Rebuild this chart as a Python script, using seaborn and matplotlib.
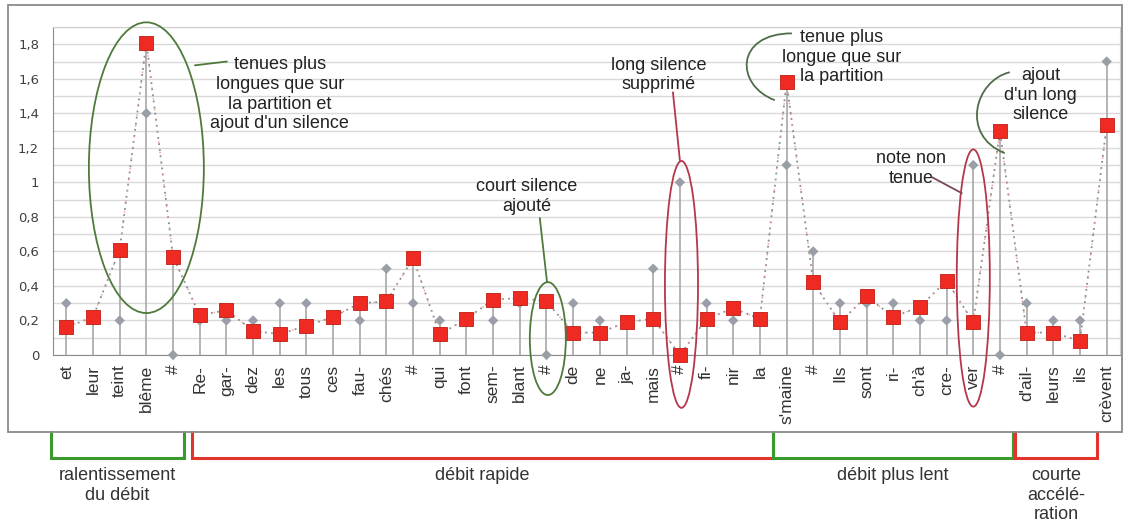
import matplotlib
matplotlib.use("Agg")
import matplotlib.pyplot as plt
import numpy as np
import pandas as pd
import seaborn as sns
from matplotlib.patches import Ellipse, PathPatch, Rectangle
from matplotlib.path import Path
from matplotlib.ticker import FuncFormatter, MultipleLocator
from matplotlib.transforms import blended_transform_factory

# syllabes chantées (# = silence)
syllabes = ["et", "leur", "teint", "blême", "#", "Re-", "gar-", "dez", "les", "tous",
            "ces", "fau-", "chés", "#", "qui", "font", "sem-", "blant", "#", "de",
            "ne", "ja-", "mais", "#", "fi-", "nir", "la", "s'maine", "#", "Ils",
            "sont", "ri-", "ch'à", "cre-", "ver", "#", "d'ail-", "leurs", "ils", "crèvent"]
# durées sur la partition (losanges gris)
partition = [0.3, 0.2, 0.2, 1.4, 0.0, 0.2, 0.2, 0.2, 0.3, 0.3,
             0.2, 0.2, 0.5, 0.3, 0.2, 0.2, 0.2, 0.3, 0.0, 0.3,
             0.2, 0.2, 0.5, 1.0, 0.3, 0.2, 0.2, 1.1, 0.6, 0.3,
             0.3, 0.3, 0.2, 0.2, 1.1, 0.0, 0.3, 0.2, 0.2, 1.7]
# durées chantées (carrés rouges)
chant = [0.16, 0.22, 0.61, 1.81, 0.57, 0.23, 0.26, 0.14, 0.12, 0.17,
         0.22, 0.30, 0.31, 0.56, 0.12, 0.21, 0.32, 0.33, 0.31, 0.13,
         0.13, 0.19, 0.21, 0.00, 0.21, 0.27, 0.21, 1.58, 0.42, 0.19,
         0.34, 0.22, 0.28, 0.43, 0.19, 1.30, 0.13, 0.13, 0.08, 1.33]

# zones de débit sous le graphique : (début, fin, couleur, texte)
zones = [(-0.59, 4.41, "#3b9a2c", "ralentissement\ndu débit"),
         (4.71, 26.49, "#e2332c", "débit rapide"),
         (26.49, 35.48, "#3b9a2c", "débit plus lent"),
         (35.56, 38.63, "#e2332c", "courte\naccélé-\nration")]

df = pd.DataFrame({"pos": np.arange(len(syllabes)), "syllabe": syllabes,
                   "partition": partition, "chant": chant})

sns.set_style("white")
plt.rcParams["font.family"] = ["Liberation Sans", "DejaVu Sans"]

W, H = 1128, 529
fig = plt.figure(figsize=(W / 100, H / 100), dpi=100)
ax = fig.add_axes([53 / W, 1 - 355 / H, (1120 - 53) / W, (355 - 27) / H])

# tiges verticales jusqu'à la plus grande des deux valeurs
ax.vlines(df["pos"], 0, df[["partition", "chant"]].max(axis=1), color="#a8a8a8", lw=1.2, zorder=2)

# ligne pointillée reliant les durées chantées
sns.lineplot(data=df, x="pos", y="chant", ax=ax, color="#8c8c8c", lw=1.3,
             linestyle=(0, (1, 2.4)), zorder=3)
sns.lineplot(data=df, x="pos", y="chant", ax=ax, color="#e89a94", lw=1.0,
             linestyle=(1.7, (1, 6.8)), zorder=3)

sns.scatterplot(data=df, x="pos", y="partition", ax=ax, marker="D", s=28,
                color="#9a9ea6", edgecolor="none", zorder=4, clip_on=False)
sns.scatterplot(data=df, x="pos", y="chant", ax=ax, marker="s", s=90,
                color="#ee2a22", edgecolor="#c01c16", linewidth=0.6, zorder=5, clip_on=False)

ax.set_xlim(-0.5, len(syllabes) - 0.5)
ax.set_ylim(0, 1.9)
ax.yaxis.set_major_locator(MultipleLocator(0.2))
ax.yaxis.set_minor_locator(MultipleLocator(0.1))
ax.yaxis.set_major_formatter(FuncFormatter(lambda v, _: f"{v:g}".replace(".", ",")))
ax.grid(which="both", axis="y", color="#d9d9d9", lw=1.0, zorder=0)
ax.set_axisbelow(True)

ax.set_xticks(df["pos"], labels=syllabes, rotation=90, fontsize=12.5, color="#333333")
ax.set_xticks(np.arange(-0.5, len(syllabes), 1), minor=True)
ax.tick_params(axis="x", which="major", length=0, pad=7)
ax.tick_params(axis="x", which="minor", length=5, color="#9a9a9a", width=0.8)
ax.tick_params(axis="y", which="major", length=4, color="#9a9a9a", pad=6, labelsize=9.5,
               labelcolor="#404040")
ax.tick_params(axis="y", which="minor", length=0)
for lab in ax.get_yticklabels():
    lab.set_family("DejaVu Sans")
ax.set_xlabel("")
ax.set_ylabel("")
for side in ["left", "bottom"]:
    ax.spines[side].set_color("#8c8c8c")
for side in ["top", "right"]:
    ax.spines[side].set_color("#cfcfcf")

# cadre du graphique
fig.add_artist(Rectangle((8 / W, 1 - 432 / H), 1114 / W, 427 / H, transform=fig.transFigure,
                         fill=False, ec="#8a8a8a", lw=1.3))

# accolades de débit
trans = blended_transform_factory(ax.transData, fig.transFigure)
top, bottom = 1 - 432 / H, 1 - 458 / H
for x0, x1, col, txt in zones:
    ax.plot([x0, x0, x1, x1], [top, bottom, bottom, top], transform=trans, color=col,
            lw=2.2, clip_on=False, solid_joinstyle="miter")
    ax.text((x0 + x1) / 2, 1 - 467 / H, txt, transform=trans, ha="center", va="top",
            fontsize=13, linespacing=1.2, color="#333333")

# annotations
green, red = "#4e7a3c", "#b5374a"
txt_kw = dict(ha="center", va="center", fontsize=13, linespacing=1.2, color="#222222")

ax.add_patch(Ellipse((3.0, 1.085), 4.31, 1.684, fill=False, ec=green, lw=1.3, clip_on=False, zorder=6))
ax.plot([4.82, 6.02], [1.678, 1.70], color=green, lw=1.3, zorder=6)
ax.text(8.0, 1.51, "tenues plus\nlongues que sur\nla partition et\najout d'un silence", **txt_kw)

ax.add_patch(Ellipse((18.05, 0.095), 1.35, 0.654, fill=False, ec=green, lw=1.3, clip_on=False, zorder=6))
ax.plot([17.75, 18.02], [0.793, 0.422], color=green, lw=1.3, zorder=6)
ax.text(17.27, 0.917, "court silence\najouté", **txt_kw)

ax.add_patch(Ellipse((23.06, 0.409), 1.24, 1.43, fill=False, ec=red, lw=1.3, clip_on=False, zorder=6))
ax.plot([22.74, 23.0], [1.522, 1.128], color=red, lw=1.3, zorder=6)
ax.text(22.21, 1.623, "long silence\nsupprimé", **txt_kw)

curve = Path([(27.2, 1.863), (25.06, 1.863), (25.06, 1.5625), (26.56, 1.476)],
             [Path.MOVETO, Path.CURVE4, Path.CURVE4, Path.CURVE4])
ax.add_patch(PathPatch(curve, fc="none", ec="#4e6e48", lw=1.3, clip_on=False, zorder=6))
ax.text(29.07, 1.725, "tenue plus\nlongue que sur\nla partition", **txt_kw)

ax.add_patch(Ellipse((34.0, 0.446), 1.24, 1.49, fill=False, ec=red, lw=1.3, clip_on=False, zorder=6))
ax.plot([32.45, 33.57], [1.03, 0.9375], color="#7a4a55", lw=1.3, zorder=6)
ax.text(31.66, 1.079, "note non\ntenue", **txt_kw)

curve2 = Path([(35.37, 1.638), (34.06, 1.59), (33.5, 1.273), (35.18, 1.169)],
              [Path.MOVETO, Path.CURVE4, Path.CURVE4, Path.CURVE4])
ax.add_patch(PathPatch(curve2, fc="none", ec="#4e6e48", lw=1.3, clip_on=False, zorder=6))
ax.text(36.53, 1.505, "ajout\nd'un long\nsilence", **txt_kw)

fig.savefig("out.png", dpi=100, facecolor="white")
